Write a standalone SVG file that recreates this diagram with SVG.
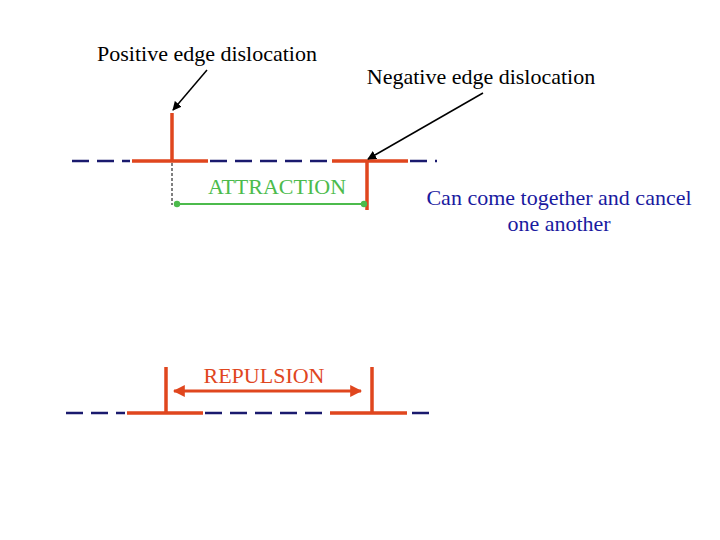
<svg xmlns="http://www.w3.org/2000/svg" width="720" height="540" viewBox="0 0 720 540">
<defs>
<style>
.t{font-family:"Liberation Serif",serif;font-size:22px}
.dash{stroke:#1a1a6e;stroke-width:2.5;stroke-dasharray:17,8;fill:none}
.red{stroke:#e0461e;stroke-width:3.5;fill:none}
</style>
<marker id="ab" viewBox="0 0 10 10" refX="9" refY="5" markerWidth="6" markerHeight="6" orient="auto-start-reverse"><path d="M0,0L10,5L0,10z" fill="#000"/></marker>
<marker id="ar" viewBox="0 0 10 10" refX="9" refY="5" markerWidth="4" markerHeight="4" orient="auto-start-reverse"><path d="M0,0L10,5L0,10z" fill="#e0461e"/></marker>
<marker id="dg" viewBox="0 0 10 10" refX="5" refY="5" markerWidth="4" markerHeight="4"><circle cx="5" cy="5" r="4" fill="#4cbb4c"/></marker>
</defs>
<g id="top-plane"><path class="dash" d="M72,161H130M210,161H330M410,161H437"/></g>
<g id="positive1"><path class="red" d="M132,161H208M172,161V113"/></g>
<g id="negative1"><path class="red" d="M332,161H408M367,161V210"/></g>
<g id="bottom-plane"><path class="dash" d="M66,413H125M205,413H328M412,413H430"/></g>
<g id="positive2"><path class="red" d="M127,413H203M166,413V367"/></g>
<g id="negative2"><path class="red" d="M330,413H407M372,413V367"/></g>
<g id="connectors">
<line x1="207" y1="70" x2="173" y2="110" stroke="#000" stroke-width="1.5" marker-end="url(#ab)"/>
<line x1="483" y1="93" x2="368" y2="159" stroke="#000" stroke-width="1.5" marker-end="url(#ab)"/>
<line x1="172" y1="163" x2="172" y2="205" stroke="#000" stroke-width="1" stroke-dasharray="3,2"/>
<line x1="177" y1="204" x2="364" y2="204" stroke="#4cbb4c" stroke-width="2" marker-start="url(#dg)" marker-end="url(#dg)"/>
<line x1="174" y1="391" x2="361" y2="391" stroke="#e0461e" stroke-width="3" marker-start="url(#ar)" marker-end="url(#ar)"/>
</g>
<text class="t" x="207" y="61" text-anchor="middle">Positive edge dislocation</text>
<text class="t" x="481" y="84" text-anchor="middle">Negative edge dislocation</text>
<text class="t" x="277" y="194" text-anchor="middle" fill="#4cbb4c">ATTRACTION</text>
<text class="t" x="264" y="383" text-anchor="middle" fill="#e0461e">REPULSION</text>
<text class="t" x="559" y="205" text-anchor="middle" fill="#1a1aa0">Can come together and cancel</text>
<text class="t" x="559" y="231" text-anchor="middle" fill="#1a1aa0">one another</text>
</svg>
